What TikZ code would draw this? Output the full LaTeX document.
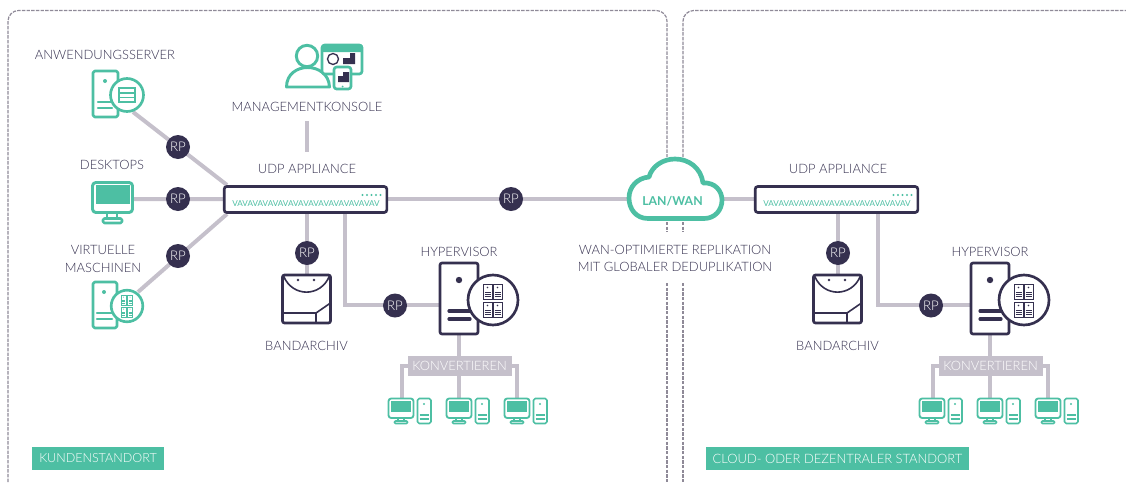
\documentclass[tikz,border=0pt]{standalone}
\usepackage{fontspec}
\setmainfont{Lato}[UprightFont=* Light,BoldFont=* Bold]
\newfontfamily\latoreg{Lato}
\usetikzlibrary{calc}
\definecolor{teal}{HTML}{4DBFA3}
\definecolor{navy}{HTML}{35304F}
\definecolor{wire}{HTML}{C5C0CB}
\definecolor{ink}{HTML}{35304F}
\definecolor{dash}{HTML}{8F8A98}
\tikzset{
  x=0.75pt,y=-0.75pt,
  wire/.style={draw=wire,line width=3pt},
  rp/.style={circle,fill=navy,text=white,minimum size=18pt,inner sep=0pt,font=\fontsize{10}{10}\selectfont},
  lab/.style={text=ink,font=\fontsize{9.7}{13.3}\selectfont,align=center,inner sep=0pt},
  panel/.style={draw=dash,line width=0.9pt,dash pattern=on 2.6pt off 0.9pt,rounded corners=8pt},
  tag/.style={fill=teal,text=white,font=\fontsize{9.7}{11}\selectfont,inner sep=0pt,minimum height=17pt},
  tline/.style={draw=teal,line width=1.9pt,line join=round,rounded corners=1.3pt},
  nline/.style={draw=navy,line width=2pt,line join=round,rounded corners=1.5pt},
  appl/.style={draw=navy,line width=2pt,fill=white,rounded corners=2pt,minimum width=122pt,minimum height=19.5pt,inner sep=0pt},
  conv/.style={fill=wire,text=white,font=\fontsize{9.7}{11}\selectfont,inner sep=0pt,minimum width=78pt,minimum height=15pt},
  pics/serverbig/.style={code={
    \draw[nline,fill=white] (-17,-39) rectangle (21,32);
    \fill[navy] (2,-22) circle (3.2);
    \draw[draw=navy,line width=2.4pt,line cap=round] (-8,9) -- (13,9);
    \draw[draw=navy,line width=2.4pt,line cap=round] (-8,17) -- (13,17);
    \draw[draw=navy,line width=2pt,fill=white] (36,-2) circle (25);
    \foreach \a/\b in {26/-18,36/-18,26/0,36/0}{
      \draw[navy,line width=.45pt] (\a,\b) rectangle ++(9,15);
      \fill[navy] (\a+4.5,\b+3.5) circle (.8);
      \draw[navy,line width=.4pt] (\a+1.5,\b+8.5) -- ++(6,0) (\a+1.5,\b+10.5) -- ++(6,0) (\a+1.5,\b+12.5) -- ++(6,0);
    }
  }},
  pics/tape/.style={code={
    \draw[nline,fill=white] (-24,-24) rectangle (24,24);
    \draw[navy,line width=1.2pt] (-23,-23) .. controls (-14,-1.5) and (14,-1.5) .. (23,-23);
    \fill[navy] (-8.5,-19) circle (1.4) (7.5,-19) circle (1.4);
    \draw[navy,line width=1.2pt] (-24,14) -- (9.5,14) -- (24,4) (9.5,14) -- (9.5,24);
  }},
  pics/pcset/.style={code={
    \draw[tline,line width=1.4pt,rounded corners=2pt,fill=white] (-12.5,-10.5) rectangle (12.5,9);
    \fill[teal] (-10,-8.5) rectangle (10,3);
    \draw[teal,line width=1.2pt] (-3,9) -- (-3,12) (3,9) -- (3,12);
    \draw[tline,line width=1.2pt,rounded corners=.8pt] (-6.5,12) rectangle (6.5,14.5);
    \draw[tline,line width=1.2pt] (16.5,-10.5) rectangle (30,14.5);
    \fill[teal] (23,-5) circle (1.2);
    \draw[teal,line width=.9pt] (18.5,6) -- (28,6) (18.5,10) -- (28,10);
  }},
  pics/applbits/.style={code={
    \foreach \i in {0,...,4} \fill[teal] (57+\i*4.5,-4.5) circle (1.2);
    \node[text=teal,inner sep=0pt,font=\latoreg\fontsize{6.1}{7}\selectfont] at (0.5,4.5) {VAVAVAVAVAVAVAVAVAVAVAVAVAVAV};
  }}
}
% site offset, suffix, elbow x, second RP x
\newcommand{\sitegroup}[4]{%
\begin{scope}[shift={(#1,0)}]
  \node[lab] (udp#2) at (307,168.5) {UDP APPLIANCE};
  \coordinate (e1#2) at (307,210);
  \coordinate (tp#2) at (307,276);
  \coordinate (e2#2) at (#3,210);
  \coordinate (e3#2) at (#3,305);
  \coordinate (e4#2) at (445,305);
  \draw[wire] (e1#2) -- (tp#2);
  \draw[wire] (e2#2) -- (e3#2) -- (e4#2);
  \coordinate (c0#2) at (459,330);
  \coordinate (c1#2) at (402,400);
  \coordinate (c2#2) at (459,400);
  \coordinate (c3#2) at (517,400);
  \coordinate (c4#2) at (402,365.5);
  \coordinate (c5#2) at (517,365.5);
  \draw[wire] (c0#2) -- (c2#2) (c1#2) -- (c4#2) -- (c5#2) -- (c3#2);
  \node[appl] (box#2) at (305.5,199.5) {};
  \pic at (box#2.center) {applbits};
  \coordinate (hv#2) at (457,302);
  \pic at (hv#2) {serverbig};
  \node[lab] (hvl#2) at (459,251.5) {HYPERVISOR};
  \pic at (306.5,299) {tape};
  \node[lab] (tpl#2) at (306.5,345.5) {BANDARCHIV};
  \node[rp] (rpa#2) at (307,253) {RP};
  \node[rp] (rpb#2) at (#4,305.5) {RP};
  \node[conv] (cv#2) at (459.5,366) {KONVERTIEREN};
  \pic at (401,409) {pcset};
  \pic at (459,409) {pcset};
  \pic at (517,409) {pcset};
\end{scope}}
\begin{document}
\begin{tikzpicture}
\useasboundingbox (0,0) rectangle (1126,482);
\draw[panel] (8,482) -- (8,10.5) -- (667,10.5) -- (667,157);
\draw[panel] (667,222) -- (667,232) (667,283) -- (667,482);
\draw[panel] (683,157) -- (683,10.5) -- (1126,10.5);
\draw[panel] (683,222) -- (683,232) (683,283) -- (683,482);

% left-hand clients
\coordinate (sA) at (133,112);
\coordinate (sB) at (134,199);
\coordinate (sC) at (138,292);
\coordinate (bA) at (227,185);
\coordinate (bB) at (226,199);
\coordinate (bC) at (227,214);
\coordinate (bD) at (386,199);
\coordinate (cL) at (630,199);
\coordinate (cR) at (722,199);
\coordinate (bE) at (755,199);
\coordinate (mT) at (307,121);
\coordinate (mB) at (307,152);
\draw[wire] (sA) -- (bA) (sB) -- (bB) (sC) -- (bC);
\draw[wire] (bD) -- (cL);
\draw[wire] (mT) -- (mB);
\draw[wire] (cR) -- (bE);

\sitegroup{0}{L}{345}{395}
\sitegroup{531}{R}{347}{400}

\node[rp] (rp1) at (178,147) {RP};
\node[rp] (rp2) at (178,199) {RP};
\node[rp] (rp3) at (178,256) {RP};
\node[rp] (rp4) at (511,199) {RP};

\node[lab] (lapp) at (105,55) {ANWENDUNGSSERVER};
\node[lab] (ldesk) at (112,165) {DESKTOPS};
\node[lab] (lvm) at (103,259) {VIRTUELLE\\MASCHINEN};
\node[lab] (lmgmt) at (307,107) {MANAGEMENTKONSOLE};
\node[lab] (lwan) at (675,258.5) {WAN-OPTIMIERTE REPLIKATION\\MIT GLOBALER DEDUPLIKATION};

% application server icon
\draw[tline,fill=white] (93,71) rectangle (118,117);
\fill[teal] (105,81) circle (2);
\draw[teal,line width=1.6pt,line cap=round] (98,102) -- (112,102) (98,108) -- (112,108);
\draw[draw=teal,line width=2pt,fill=white] (127,95) circle (16.5);
\draw[teal,line width=1.2pt] (119,88) rectangle (135,102) (119,92.7) -- (135,92.7) (119,97.3) -- (135,97.3);

% desktop icon
\draw[tline,fill=white,line width=2.2pt,rounded corners=2.5pt] (92.5,182.5) rectangle (132.5,212.5);
\fill[teal] (96,185) rectangle (130,204);
\draw[tline,rounded corners=1pt] (103,218.5) rectangle (122,223);
\draw[teal,line width=1.6pt] (107,213) -- (107,218.5) (117,213) -- (117,218.5);

% virtual machine icon
\draw[tline,fill=white] (93,282) rectangle (117,328);
\fill[teal] (104,292) circle (2);
\draw[teal,line width=1.6pt,line cap=round] (97,313) -- (112,313) (97,319) -- (112,319);
\draw[draw=teal,line width=2pt,fill=white] (127,306) circle (15.8);
\foreach \a/\b in {121/295,127.5/295,121/307,127.5/307}{
  \draw[teal,line width=.4pt] (\a,\b) rectangle ++(5,10);
  \fill[teal] (\a+2.5,\b+2) circle (.5);
  \draw[teal,line width=.3pt] (\a+1,\b+5) -- ++(3,0) (\a+1,\b+6.5) -- ++(3,0) (\a+1,\b+8) -- ++(3,0);
}

% management console icon
\draw[draw=teal,line width=2.2pt,fill=white,line join=round] (286.5,87) .. controls (286.5,61) and (328.5,61) .. (329.5,87) -- cycle;
\draw[draw=teal,line width=2.2pt,fill=white] (307,56) circle (10.7);
\draw[tline,line width=2pt,rounded corners=2pt,fill=white] (322,45) rectangle (362,74);
\fill[teal,rounded corners=1pt] (322,44.5) rectangle (362.5,52);
\draw[navy,line width=1pt] (333,59) circle (5.5);
\fill[navy] (343,58) -- (350,58) -- (350,53) -- (355,53) -- (355,64) -- (343,64) -- cycle;
\draw[tline,line width=2pt,rounded corners=2pt,fill=white] (334,67) rectangle (351,89);
\fill[navy] (338,76) -- (343,76) -- (343,72) -- (349,72) -- (349,82) -- (338,82) -- cycle;
\fill[teal] (342.5,86.5) circle (1);

% cloud
\draw[draw=teal,line width=3.5pt,fill=white,line join=round] (648,218.5) .. controls (636,218.5) and (629,209) .. (629,198)
  .. controls (629,187) and (637,178) .. (649,177)
  .. controls (652,166) and (663,159) .. (675,159)
  .. controls (689,159) and (701,168) .. (703,183)
  .. controls (715,182) and (722,191) .. (722,200)
  .. controls (722,210) and (715,218.5) .. (704,218.5) -- cycle;
\node[text=teal,inner sep=0pt,font=\fontsize{9.2}{11}\selectfont\bfseries] (cloud) at (672.5,201) {LAN/WAN};

\node[tag,minimum width=99pt,font=\fontsize{9.4}{11}\selectfont] (t1) at (98,458.5) {KUNDENSTANDORT};
\node[tag,minimum width=197pt] (t2) at (837.5,458.5) {CLOUD- ODER DEZENTRALER STANDORT};
\end{tikzpicture}
\end{document}
